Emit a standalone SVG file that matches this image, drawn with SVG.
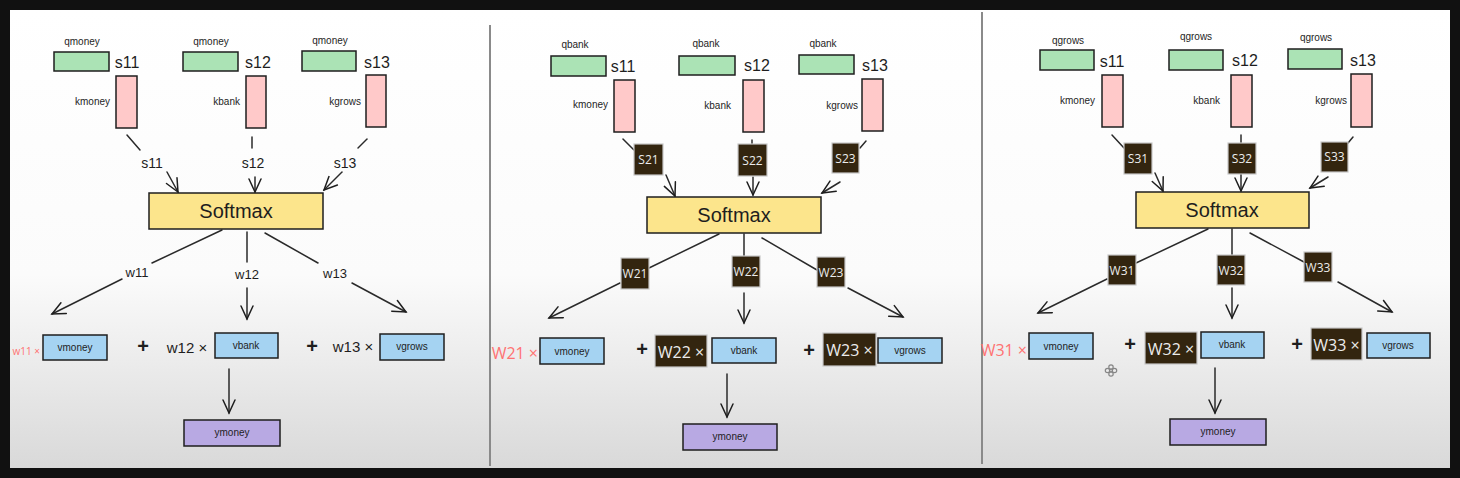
<svg xmlns="http://www.w3.org/2000/svg" width="1460" height="478" viewBox="0 0 1460 478">
<defs>
<linearGradient id="bg" x1="0" y1="10" x2="0" y2="467" gradientUnits="userSpaceOnUse">
<stop offset="0" stop-color="#ffffff"/>
<stop offset="0.58" stop-color="#fbfbfb"/>
<stop offset="1" stop-color="#d9d9d9"/>
</linearGradient>
<marker id="ah" viewBox="-14 -8 16 16" markerWidth="16" markerHeight="16" refX="0" refY="0" orient="auto" markerUnits="userSpaceOnUse">
<path d="M-13,-6 L0,0 L-13,6" fill="none" stroke="#1e1e1e" stroke-width="1.5" stroke-linecap="round"/>
</marker>
<style>
.q{fill:#abe3b5;stroke:#1e1e1e;stroke-width:1.5}
.k{fill:#ffc9c9;stroke:#1e1e1e;stroke-width:1.5}
.sm{fill:#fce58c;stroke:#1e1e1e;stroke-width:1.5}
.v{fill:#a5d3f2;stroke:#1e1e1e;stroke-width:1.5}
.y{fill:#b8a9e3;stroke:#1e1e1e;stroke-width:1.5}
.dk{fill:#33250f;stroke:#c8c8c8;stroke-width:1.2}
.t{font-family:"Liberation Sans",Arial,sans-serif;fill:#1e1e1e}
.lbl{font-size:10px;text-anchor:middle}
.kl{font-size:10px;text-anchor:end}
.s{font-size:16px;text-anchor:middle}
.smt{font-size:20px;text-anchor:middle}
.vt{font-size:10px;text-anchor:middle}
.wl{font-size:13px;text-anchor:middle}
.pl{font-size:20px;font-weight:bold;text-anchor:middle}
.dt{font-family:"Open Sans","DejaVu Sans",sans-serif;fill:#ececec;text-anchor:middle}
.red{font-family:"Open Sans","DejaVu Sans",sans-serif;fill:#ff7272;text-anchor:end}
.ln{stroke:#2a2a2a;stroke-width:1.5;fill:none;stroke-linecap:round}
.ar{stroke:#2a2a2a;stroke-width:1.5;fill:none;stroke-linecap:round;marker-end:url(#ah)}
.div{stroke:#8a8a8a;stroke-width:2}
</style>
</defs>
<rect x="0" y="0" width="1460" height="478" fill="#111111"/>
<rect x="10" y="10" width="1440" height="458" fill="url(#bg)"/>
<line class="div" x1="490" y1="25" x2="490" y2="466"/>
<line class="div" x1="982" y1="12" x2="982" y2="464"/>

<!-- ============ PANEL 1 ============ -->
<g id="connectors-1">
<line class="ln" x1="127" y1="135" x2="140" y2="150"/>
<line class="ar" x1="167" y1="172" x2="178" y2="192"/>
<line class="ln" x1="252" y1="137" x2="252" y2="148"/>
<line class="ar" x1="255" y1="177" x2="255" y2="192"/>
<line class="ln" x1="367" y1="139" x2="358" y2="148"/>
<line class="ar" x1="342" y1="172" x2="324" y2="190"/>
<line class="ln" x1="222" y1="230" x2="152" y2="263"/>
<line class="ar" x1="122" y1="279" x2="52" y2="314"/>
<line class="ln" x1="247" y1="232" x2="247" y2="262"/>
<line class="ar" x1="247" y1="288" x2="247" y2="319"/>
<line class="ln" x1="265" y1="233" x2="318" y2="263"/>
<line class="ar" x1="352" y1="283" x2="406" y2="312"/>
<line class="ar" x1="229" y1="369" x2="229" y2="413"/>
<text class="t s" x="152" y="168" style="font-size:14px">s11</text>
<text class="t s" x="253" y="168" style="font-size:14px">s12</text>
<text class="t s" x="345" y="168" style="font-size:14px">s13</text>
<text class="t wl" x="137" y="277">w11</text>
<text class="t wl" x="247" y="279">w12</text>
<text class="t wl" x="335" y="278">w13</text>
</g>
<g id="q1-1"><text class="t lbl" x="82" y="45">qmoney</text><rect class="q" x="54" y="52" width="55" height="19"/><text class="t s" x="127" y="68">s11</text></g>
<g id="q1-2"><text class="t lbl" x="211" y="45">qmoney</text><rect class="q" x="183" y="52" width="55" height="19"/><text class="t s" x="258" y="68">s12</text></g>
<g id="q1-3"><text class="t lbl" x="330" y="44">qmoney</text><rect class="q" x="302" y="51" width="54" height="20"/><text class="t s" x="377" y="68">s13</text></g>
<g id="k1-1"><text class="t kl" x="110" y="105">kmoney</text><rect class="k" x="116" y="76" width="21" height="52"/></g>
<g id="k1-2"><text class="t kl" x="240" y="105">kbank</text><rect class="k" x="246" y="76" width="20" height="52"/></g>
<g id="k1-3"><text class="t kl" x="361" y="105">kgrows</text><rect class="k" x="366" y="75" width="20" height="52"/></g>
<g id="softmax-1"><rect class="sm" x="149" y="193" width="174" height="36"/><text class="t smt" x="236" y="218">Softmax</text></g>
<g id="v1-1"><text class="red" x="40" y="355" style="font-size:10px">w11 ×</text><rect class="v" x="43" y="335" width="64" height="25"/><text class="t vt" x="75" y="351">vmoney</text></g>
<g id="v1-2"><text class="t pl" x="143" y="353">+</text><text class="t" x="187" y="353" style="font-size:15px;text-anchor:middle">w12 ×</text><rect class="v" x="215" y="333" width="63" height="25"/><text class="t vt" x="246" y="349">vbank</text></g>
<g id="v1-3"><text class="t pl" x="312" y="353">+</text><text class="t" x="353" y="352" style="font-size:15px;text-anchor:middle">w13 ×</text><rect class="v" x="380" y="334" width="64" height="26"/><text class="t vt" x="412" y="350">vgrows</text></g>
<g id="y-1"><rect class="y" x="184" y="420" width="96" height="26"/><text class="t vt" x="232" y="436">ymoney</text></g>

<!-- ============ PANEL 2 ============ -->
<g id="connectors-2">
<line class="ln" x1="623" y1="139" x2="634" y2="150"/>
<line class="ar" x1="666" y1="175" x2="675" y2="196"/>
<line class="ln" x1="752" y1="140" x2="752" y2="144"/>
<line class="ar" x1="753" y1="177" x2="753" y2="195"/>
<line class="ln" x1="866" y1="141" x2="860" y2="148"/>
<line class="ar" x1="840" y1="182" x2="822" y2="193"/>
<line class="ln" x1="719" y1="234" x2="649" y2="268"/>
<line class="ar" x1="620" y1="283" x2="549" y2="318"/>
<line class="ln" x1="744" y1="234" x2="744" y2="256"/>
<line class="ar" x1="744" y1="293" x2="744" y2="323"/>
<line class="ln" x1="762" y1="238" x2="817" y2="270"/>
<line class="ar" x1="848" y1="288" x2="903" y2="317"/>
<line class="ar" x1="727" y1="374" x2="727" y2="417"/>
<rect class="dk" x="634" y="144" width="29" height="31"/><text class="dt" x="648.5" y="164" style="font-size:12px">S21</text>
<rect class="dk" x="738" y="144" width="29" height="32"/><text class="dt" x="752.5" y="165" style="font-size:12px">S22</text>
<rect class="dk" x="832" y="143" width="27" height="30"/><text class="dt" x="845.5" y="163" style="font-size:12px">S23</text>
<rect class="dk" x="621" y="258" width="28" height="31"/><text class="dt" x="635" y="278" style="font-size:12px">W21</text>
<rect class="dk" x="732" y="256" width="28" height="31"/><text class="dt" x="746" y="276" style="font-size:12px">W22</text>
<rect class="dk" x="817" y="257" width="28" height="30"/><text class="dt" x="831" y="277" style="font-size:12px">W23</text>
</g>
<g id="q2-1"><text class="t lbl" x="575" y="48">qbank</text><rect class="q" x="551" y="56" width="55" height="20"/><text class="t s" x="623" y="72">s11</text></g>
<g id="q2-2"><text class="t lbl" x="706" y="47">qbank</text><rect class="q" x="679" y="56" width="56" height="19"/><text class="t s" x="757" y="71">s12</text></g>
<g id="q2-3"><text class="t lbl" x="823" y="47">qbank</text><rect class="q" x="799" y="55" width="55" height="19"/><text class="t s" x="875" y="71">s13</text></g>
<g id="k2-1"><text class="t kl" x="608" y="108">kmoney</text><rect class="k" x="614" y="80" width="21" height="52"/></g>
<g id="k2-2"><text class="t kl" x="731" y="109">kbank</text><rect class="k" x="743" y="80" width="21" height="52"/></g>
<g id="k2-3"><text class="t kl" x="858" y="109">kgrows</text><rect class="k" x="862" y="79" width="21" height="52"/></g>
<g id="softmax-2"><rect class="sm" x="647" y="197" width="174" height="36"/><text class="t smt" x="734" y="222">Softmax</text></g>
<g id="v2-1"><text class="red" x="538" y="359" style="font-size:16px">W21 ×</text><rect class="v" x="540" y="338" width="64" height="26"/><text class="t vt" x="572" y="355">vmoney</text></g>
<g id="v2-2"><text class="t pl" x="642" y="356">+</text><rect class="dk" x="655" y="335" width="52" height="32"/><text class="dt" x="681" y="358" style="font-size:16px">W22 ×</text><rect class="v" x="712" y="338" width="64" height="25"/><text class="t vt" x="744" y="354">vbank</text></g>
<g id="v2-3"><text class="t pl" x="809" y="357">+</text><rect class="dk" x="823" y="333" width="53" height="33"/><text class="dt" x="849.5" y="356" style="font-size:16px">W23 ×</text><rect class="v" x="878" y="338" width="64" height="25"/><text class="t vt" x="910" y="354">vgrows</text></g>
<g id="y-2"><rect class="y" x="683" y="424" width="94" height="26"/><text class="t vt" x="730" y="440">ymoney</text></g>

<!-- ============ PANEL 3 ============ -->
<g id="connectors-3">
<line class="ln" x1="1112" y1="135" x2="1124" y2="148"/>
<line class="ar" x1="1155" y1="173" x2="1163" y2="191"/>
<line class="ln" x1="1241" y1="135" x2="1241" y2="143"/>
<line class="ar" x1="1241" y1="174" x2="1241" y2="191"/>
<line class="ln" x1="1353" y1="137" x2="1348" y2="143"/>
<line class="ar" x1="1328" y1="177" x2="1310" y2="188"/>
<line class="ln" x1="1208" y1="229" x2="1136" y2="263"/>
<line class="ar" x1="1107" y1="279" x2="1038" y2="313"/>
<line class="ln" x1="1232" y1="229" x2="1232" y2="255"/>
<line class="ar" x1="1232" y1="288" x2="1232" y2="318"/>
<line class="ln" x1="1250" y1="233" x2="1304" y2="262"/>
<line class="ar" x1="1338" y1="282" x2="1392" y2="312"/>
<line class="ar" x1="1215" y1="368" x2="1215" y2="413"/>
<rect class="dk" x="1124" y="143" width="28" height="31"/><text class="dt" x="1138" y="163" style="font-size:12px">S31</text>
<rect class="dk" x="1228" y="143" width="28" height="31"/><text class="dt" x="1242" y="163" style="font-size:12px">S32</text>
<rect class="dk" x="1321" y="142" width="27" height="30"/><text class="dt" x="1334.5" y="161" style="font-size:12px">S33</text>
<rect class="dk" x="1108" y="255" width="28" height="30"/><text class="dt" x="1122" y="275" style="font-size:12px">W31</text>
<rect class="dk" x="1217" y="255" width="28" height="30"/><text class="dt" x="1231" y="275" style="font-size:12px">W32</text>
<rect class="dk" x="1304" y="252" width="28" height="30"/><text class="dt" x="1318" y="272" style="font-size:12px">W33</text>
</g>
<g id="q3-1"><text class="t lbl" x="1068" y="44">qgrows</text><rect class="q" x="1040" y="50" width="54" height="20"/><text class="t s" x="1112" y="67">s11</text></g>
<g id="q3-2"><text class="t lbl" x="1196" y="40">qgrows</text><rect class="q" x="1169" y="50" width="54" height="20"/><text class="t s" x="1245" y="66">s12</text></g>
<g id="q3-3"><text class="t lbl" x="1316" y="41">qgrows</text><rect class="q" x="1288" y="49" width="54" height="20"/><text class="t s" x="1363" y="66">s13</text></g>
<g id="k3-1"><text class="t kl" x="1095" y="104">kmoney</text><rect class="k" x="1102" y="75" width="21" height="52"/></g>
<g id="k3-2"><text class="t kl" x="1220" y="104">kbank</text><rect class="k" x="1231" y="75" width="21" height="52"/></g>
<g id="k3-3"><text class="t kl" x="1347" y="104">kgrows</text><rect class="k" x="1351" y="74" width="21" height="53"/></g>
<g id="softmax-3"><rect class="sm" x="1136" y="192" width="173" height="36"/><text class="t smt" x="1222" y="217">Softmax</text></g>
<g id="v3-1"><text class="red" x="1027" y="356" style="font-size:16px">W31 ×</text><rect class="v" x="1029" y="333" width="64" height="26"/><text class="t vt" x="1061" y="350">vmoney</text></g>
<g id="v3-2"><text class="t pl" x="1130" y="351">+</text><rect class="dk" x="1145" y="332" width="52" height="32"/><text class="dt" x="1171" y="355" style="font-size:16px">W32 ×</text><rect class="v" x="1201" y="332" width="63" height="26"/><text class="t vt" x="1232" y="348">vbank</text></g>
<g id="v3-3"><text class="t pl" x="1297" y="351">+</text><rect class="dk" x="1311" y="328" width="51" height="32"/><text class="dt" x="1336.5" y="351" style="font-size:16px">W33 ×</text><rect class="v" x="1367" y="333" width="63" height="25"/><text class="t vt" x="1398" y="349">vgrows</text></g>
<g id="y-3"><rect class="y" x="1170" y="419" width="96" height="26"/><text class="t vt" x="1218" y="435">ymoney</text></g>
<g id="cursor" fill="none" stroke="#666" stroke-width="1.2" opacity="0.75">
<circle cx="1111" cy="367" r="2.2"/><circle cx="1111" cy="374" r="2.2"/><circle cx="1107.5" cy="370.5" r="2.2"/><circle cx="1114.5" cy="370.5" r="2.2"/><circle cx="1111" cy="370.5" r="1.5"/>
</g>
</svg>
